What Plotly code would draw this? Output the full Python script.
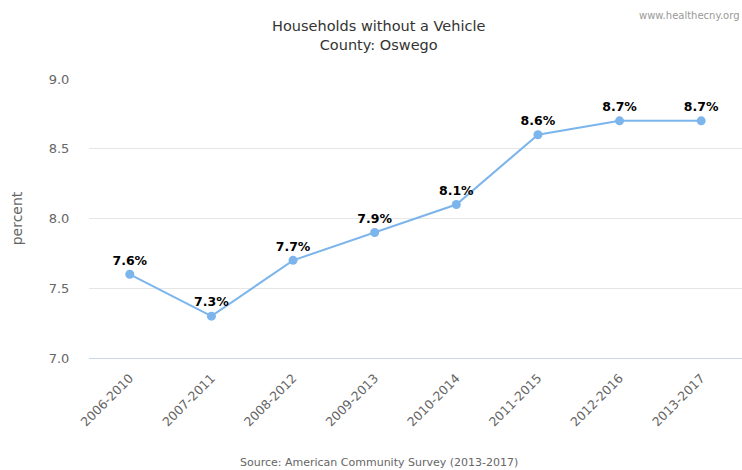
import plotly.graph_objects as go

periods = ["2006-2010", "2007-2011", "2008-2012", "2009-2013",
           "2010-2014", "2011-2015", "2012-2016", "2013-2017"]
pct = [7.6, 7.3, 7.7, 7.9, 8.1, 8.6, 8.7, 8.7]
y_ticks = [7.0, 7.5, 8.0, 8.5, 9.0]

FONT = "DejaVu Sans"
CENTER_X = 0.444  # horizontal centre for title and source text (paper units)

fig = go.Figure()
fig.add_trace(go.Scatter(
    x=periods,
    y=pct,
    mode="lines+markers+text",
    line=dict(color="#7cb5ec", width=2),
    marker=dict(color="#7cb5ec", size=9),
    text=[f"<b>{v:.1f}%</b>" for v in pct],
    textposition="top center",
    textfont=dict(family=FONT, size=12.5, color="#000000"),
    cliponaxis=False,
    hoverinfo="skip",
    showlegend=False,
))

fig.update_layout(
    width=742,
    height=470,
    margin=dict(l=89, r=0, t=79, b=112),
    paper_bgcolor="#ffffff",
    plot_bgcolor="#ffffff",
    font=dict(family=FONT, color="#666666"),
    xaxis=dict(
        type="category",
        tickangle=-45,
        tickfont=dict(family=FONT, size=12.5, color="#666666"),
        showgrid=False,
        showline=True,
        linecolor="#ccd6eb",
        linewidth=1,
        ticks="outside",
        ticklen=7,
        tickcolor="rgba(0,0,0,0)",
        range=[-0.5, len(periods) - 0.5],
        fixedrange=True,
    ),
    yaxis=dict(
        range=[7.0, 9.0],
        tickvals=y_ticks,
        ticktext=[f"{v:.1f}" for v in y_ticks],
        tickfont=dict(family=FONT, size=13, color="#666666"),
        showgrid=True,
        gridcolor="#e6e6e6",
        zeroline=False,
        showline=False,
        ticks="outside",
        ticklen=16,
        tickcolor="rgba(0,0,0,0)",
        title=dict(text="percent", font=dict(family=FONT, size=14, color="#666666"),
                   standoff=22),
        fixedrange=True,
    ),
    annotations=[
        dict(text="Households without a Vehicle<br>County: Oswego",
             xref="paper", yref="paper", x=CENTER_X, y=1,
             xanchor="center", yanchor="bottom", yshift=24, showarrow=False,
             font=dict(family=FONT, size=14.5, color="#333333")),
        dict(text="www.healthecny.org",
             xref="paper", yref="paper", x=1, y=1, yshift=56,
             xanchor="right", yanchor="bottom", showarrow=False,
             font=dict(family=FONT, size=10, color="#999999")),
        dict(text="Source: American Community Survey (2013-2017)",
             xref="paper", yref="paper", x=CENTER_X, y=0,
             xanchor="center", yanchor="top", yshift=-96, showarrow=False,
             font=dict(family=FONT, size=11, color="#666666")),
    ],
)

fig.write_html("out.html")
